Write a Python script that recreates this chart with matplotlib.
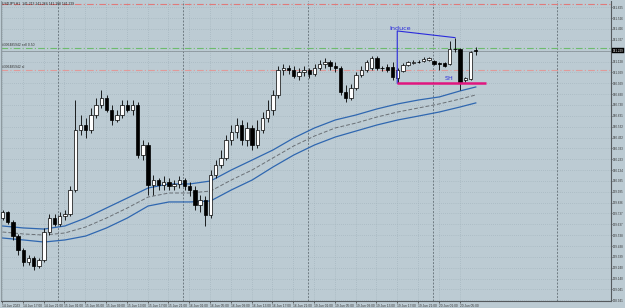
import matplotlib
matplotlib.use("Agg")
import matplotlib.pyplot as plt
from matplotlib.patches import Rectangle

# ---------------- data (USDJPY H1) ----------------
opens = [139.695, 139.750, 139.659, 139.530, 139.402, 139.292, 139.329, 139.256, 139.311, 139.567,
         139.695, 139.640, 139.713, 139.732, 139.952, 140.501, 140.547, 140.501, 140.639, 140.730,
         140.794, 140.684, 140.593, 140.639, 140.730, 140.684, 140.730, 140.272, 140.364, 139.997,
         140.043, 139.997, 140.025, 139.988, 140.007, 140.043, 139.988, 139.952, 139.814, 139.860,
         139.723, 140.089, 140.181, 140.245, 140.410, 140.483, 140.547, 140.410, 140.520, 140.364,
         140.501, 140.611, 140.684, 140.822, 141.051, 141.069, 141.051, 140.996, 141.032, 141.051,
         141.014, 141.069, 141.106, 141.124, 141.087, 141.069, 140.849, 140.794, 140.886, 141.005,
         141.051, 141.069, 141.161, 141.069, 141.081, 141.076, 140.980, 141.042, 141.097, 141.115,
         141.127, 141.133, 141.140, 141.133, 141.115, 141.112, 141.103, 141.240, 141.240, 140.956,
         140.968, 141.234]
highs = [139.768, 139.759, 139.677, 139.549, 139.420, 139.356, 139.347, 139.329, 139.604, 139.732,
         139.732, 139.750, 139.768, 139.988, 140.776, 140.639, 140.611, 140.703, 140.794, 140.868,
         140.822, 140.730, 140.684, 140.776, 140.776, 140.776, 140.758, 140.410, 140.391, 140.089,
         140.062, 140.080, 140.062, 140.043, 140.080, 140.062, 140.025, 139.988, 139.906, 139.897,
         140.135, 140.226, 140.318, 140.455, 140.547, 140.611, 140.593, 140.575, 140.547, 140.593,
         140.666, 140.776, 140.868, 141.087, 141.106, 141.097, 141.087, 141.069, 141.087, 141.069,
         141.106, 141.142, 141.161, 141.142, 141.124, 141.087, 140.913, 140.923, 141.032, 141.087,
         141.142, 141.179, 141.179, 141.087, 141.106, 141.124, 141.069, 141.115, 141.133, 141.142,
         141.142, 141.170, 141.170, 141.142, 141.127, 141.124, 141.316, 141.347, 141.252, 140.987,
         141.225, 141.264]
lows = [139.677, 139.640, 139.494, 139.356, 139.256, 139.265, 139.219, 139.237, 139.292, 139.539,
        139.622, 139.622, 139.677, 139.713, 139.933, 140.455, 140.428, 140.474, 140.611, 140.703,
        140.666, 140.547, 140.575, 140.611, 140.666, 140.639, 140.245, 140.226, 139.906, 139.906,
        139.952, 139.952, 139.952, 139.952, 139.970, 139.952, 139.897, 139.768, 139.750, 139.622,
        139.695, 140.062, 140.153, 140.226, 140.364, 140.428, 140.364, 140.355, 140.318, 140.336,
        140.474, 140.575, 140.639, 140.794, 141.005, 141.014, 140.978, 140.959, 140.996, 140.978,
        140.996, 141.051, 141.069, 141.051, 141.032, 140.822, 140.758, 140.776, 140.868, 140.987,
        141.032, 141.051, 141.051, 141.042, 141.032, 140.959, 140.929, 141.032, 141.087, 141.106,
        141.115, 141.124, 141.133, 141.097, 141.051, 141.078, 141.097, 141.218, 140.868, 140.941,
        140.959, 141.188]
closes = [139.750, 139.659, 139.530, 139.402, 139.292, 139.329, 139.256, 139.311, 139.567, 139.695,
          139.640, 139.713, 139.732, 139.952, 140.501, 140.547, 140.501, 140.639, 140.730, 140.794,
          140.684, 140.593, 140.639, 140.730, 140.684, 140.730, 140.272, 140.364, 139.997, 140.043,
          139.997, 140.025, 139.988, 140.007, 140.043, 139.988, 139.952, 139.814, 139.860, 139.723,
          140.089, 140.181, 140.245, 140.410, 140.483, 140.547, 140.410, 140.520, 140.364, 140.501,
          140.611, 140.684, 140.822, 141.051, 141.069, 141.051, 140.996, 141.032, 141.051, 141.014,
          141.069, 141.106, 141.124, 141.087, 141.069, 140.849, 140.794, 140.886, 141.005, 141.051,
          141.124, 141.161, 141.069, 141.065, 141.051, 140.984, 141.051, 141.097, 141.121, 141.127,
          141.129, 141.152, 141.158, 141.106, 141.110, 141.090, 141.240, 141.239, 140.944, 140.975,
          141.213, 141.229]

# moving-average envelope (read at every 4th bar)
ma_bars = [0, 4, 8, 12, 16, 20, 24, 28, 32, 36, 40, 44, 48, 52, 56, 60, 64, 68, 72, 76, 80, 84, 88, 91]
ma_upper = [139.622, 139.604, 139.594, 139.622, 139.695, 139.787, 139.878, 139.970, 140.007, 140.007,
            140.034, 140.135, 140.226, 140.318, 140.428, 140.520, 140.593, 140.639, 140.694, 140.740,
            140.776, 140.804, 140.859, 140.895]
ma_mid = [139.567, 139.549, 139.539, 139.558, 139.613, 139.695, 139.787, 139.887, 139.924, 139.924,
          139.942, 140.043, 140.135, 140.245, 140.355, 140.446, 140.520, 140.565, 140.620, 140.666,
          140.703, 140.740, 140.785, 140.822]
ma_lower = [139.512, 139.494, 139.475, 139.494, 139.530, 139.604, 139.695, 139.805, 139.842, 139.842,
            139.851, 139.952, 140.043, 140.162, 140.272, 140.364, 140.437, 140.492, 140.547, 140.593,
            140.629, 140.666, 140.712, 140.749]

price_ticks = [141.625, 141.526, 141.426, 141.327, 141.227, 141.128, 141.029, 140.929, 140.830, 140.730,
               140.631, 140.532, 140.432, 140.333, 140.233, 140.134, 140.035, 139.935, 139.836, 139.737,
               139.637, 139.538, 139.438, 139.339, 139.240, 139.140, 139.041, 138.941]
time_labels = ["14 Jun 2023", "14 Jun 17:00", "14 Jun 21:00", "15 Jun 01:00", "15 Jun 05:00",
               "15 Jun 09:00", "15 Jun 13:00", "15 Jun 17:00", "15 Jun 21:00", "16 Jun 01:00",
               "16 Jun 05:00", "16 Jun 09:00", "16 Jun 13:00", "16 Jun 17:00", "16 Jun 21:00",
               "19 Jun 01:00", "19 Jun 05:00", "19 Jun 09:00", "19 Jun 13:00", "19 Jun 17:00",
               "19 Jun 21:00", "20 Jun 01:00", "20 Jun 05:00"]
time_label_bars = [0, 4, 8, 12, 16, 20, 24, 28, 32, 36, 40, 44, 48, 52, 56, 60, 64, 68, 72, 76, 80, 84, 88]
day_separator_bars = [11, 35, 59, 83, 107]

current_price = 141.229
tp_level = 141.652
order_level = 141.250
sl_level = 141.051
sh_level = 140.929
induce_start_bar, induce_start_price = 76, 141.408
induce_end_bar, induce_end_price = 87, 141.347
sh_end_bar = 93

# ---------------- figure ----------------
BG = '#bccbd3'
W, H = 625, 308
AXFONT = 'Liberation Sans'
fig = plt.figure(figsize=(W / 100, H / 100), dpi=100)
fig.patch.set_facecolor(BG)
ax = fig.add_axes([1 / W, 1 - 301 / H, 610 / W, 300.5 / H])
ax.set_facecolor(BG)
ax.set_xlim(-0.29, 117.0)
ax.set_ylim(138.935, 141.687)

# grid
for p in price_ticks:
    ax.axhline(p, color='#9fb0b9', lw=0.5, ls=(0, (1, 2)), zorder=0)
for b in time_label_bars:
    ax.axvline(b - 0.1, color='#9fb0b9', lw=0.5, ls=(0, (1, 2)), zorder=0)
for b in day_separator_bars:
    ax.axvline(b - 0.3, color='#6e7a81', lw=0.7, ls=(0, (2, 1.5)), zorder=0.5)

# horizontal trade lines
ax.axhline(tp_level, color='#e07a7a', lw=0.8, ls=(0, (6, 2, 1, 2)), zorder=1)
ax.axhline(order_level, color='#6dbb6d', lw=0.8, ls=(0, (6, 2, 1, 2)), zorder=1)
ax.axhline(current_price, color='#8a959b', lw=0.6, zorder=1)
ax.axhline(sl_level, color='#e09a9a', lw=0.8, ls=(0, (6, 2, 1, 2)), zorder=1)

# envelope
ax.plot(ma_bars, ma_upper, color='#2f67b0', lw=0.9, zorder=2)
ax.plot(ma_bars, ma_lower, color='#2f67b0', lw=0.9, zorder=2)
ax.plot(ma_bars, ma_mid, color='#6a7076', lw=0.7, ls=(0, (4, 2)), zorder=2)

# candles
x = list(range(len(opens)))
ax.vlines(x, lows, highs, color='black', lw=0.6, zorder=3)
for i in x:
    o, c = opens[i], closes[i]
    bottom = min(o, c)
    h = abs(c - o)
    face = 'white' if c > o else 'black'
    if h < 0.004:
        ax.hlines(o, i - 0.33, i + 0.33, color='black', lw=0.6, zorder=4)
    else:
        ax.add_patch(Rectangle((i - 0.33, bottom), 0.66, h, facecolor=face,
                               edgecolor='black', lw=0.5, zorder=4))

# annotations
ax.plot([induce_start_bar - 0.1, induce_start_bar - 0.1, induce_end_bar],
        [sh_level, induce_start_price, induce_end_price], color='#2b2bdc', lw=0.8, zorder=5)
ax.text(74.4, 141.435, 'Induce', color='#2b2bdc', fontsize=4.6, ha='left', va='center', zorder=6)
ax.plot([induce_start_bar - 0.2, sh_end_bar], [sh_level, sh_level], color='#e0157f', lw=1.8,
        solid_capstyle='butt', zorder=5)
ax.text(85.1, 140.975, 'SH', color='#2b2bdc', fontsize=4.6, ha='left', va='center', zorder=6)

# MT4 overlay texts
ax.text(-0.05, 141.662, 'USDJPY,H1  141.213 141.264 141.188 141.229', fontsize=2.4,
        color='#222222', ha='left', va='center', zorder=6, family=AXFONT)
ax.text(-0.05, 141.277, '#306485942 sell 0.50', fontsize=2.4, color='#333333',
        ha='left', va='center', zorder=6, family=AXFONT)
ax.text(-0.05, 141.078, '#306485942 sl', fontsize=2.4, color='#333333',
        ha='left', va='center', zorder=6, family=AXFONT)

# axes styling
for side in ['top', 'left']:
    ax.spines[side].set_visible(False)
ax.spines['right'].set_color('#555a5e')
ax.spines['bottom'].set_color('#555a5e')
ax.spines['right'].set_linewidth(0.8)
ax.spines['bottom'].set_linewidth(0.8)
ax.axvline(-0.29, color='#8e9aa0', lw=1.0)

ax.yaxis.tick_right()
ax.set_yticks(price_ticks)
ax.set_yticklabels([f'{p:.3f}' for p in price_ticks], family=AXFONT)
ax.tick_params(axis='y', labelsize=2.2, length=1.0, width=0.5, colors='#333333', pad=0.4)
ax.set_xticks([b - 0.1 for b in time_label_bars])
ax.set_xticklabels(time_labels, ha='left', family=AXFONT)
ax.tick_params(axis='x', labelsize=2.3, length=1.5, width=0.5, colors='#333333', pad=0.6)

# current price box on the price axis
ax.annotate(f'{current_price:.3f}', xy=(1.0, current_price), xycoords=('axes fraction', 'data'),
            xytext=(1.2, 0), textcoords='offset points', fontsize=2.2, color='white',
            va='center', ha='left', annotation_clip=False, family=AXFONT,
            bbox=dict(boxstyle='square,pad=0.2', fc='black', ec='black', lw=0.3), zorder=10)

fig.savefig('out.png', dpi=100, facecolor=BG)
